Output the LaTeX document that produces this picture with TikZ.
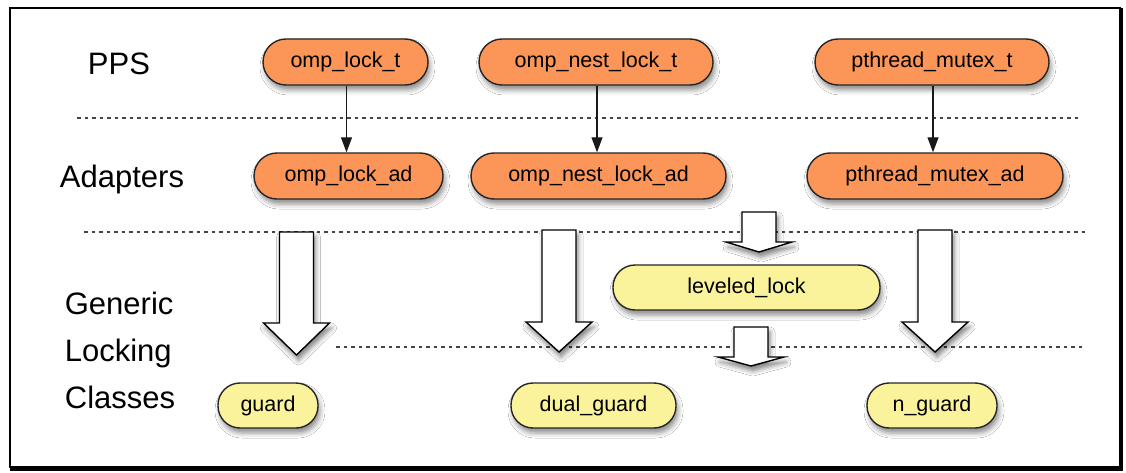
\documentclass[tikz,border=0pt]{standalone}
\usepackage{fontspec}
\setmainfont{Liberation Sans}
\usetikzlibrary{arrows.meta,shadows,shadows.blur}
\definecolor{orangefill}{HTML}{FB9658}
\definecolor{yellowfill}{HTML}{FAF39C}
\definecolor{dashgray}{HTML}{444444}
\tikzset{
  lbl/.style={font=\fontsize{31}{37}\selectfont, align=left, inner sep=0pt},
  ppsbox/.style={draw=black!85, line width=1.4pt, fill=orangefill, rounded corners=23pt,
    minimum height=46pt, inner sep=0pt, font=\fontsize{21.5}{26}\selectfont,
    blur shadow={shadow xshift=2pt, shadow yshift=-5pt, shadow blur radius=5pt, shadow opacity=45}},
  genbox/.style={draw=black!85, line width=1.4pt, fill=yellowfill, rounded corners=22pt,
    minimum height=45pt, inner sep=0pt, font=\fontsize{21.5}{26}\selectfont,
    blur shadow={shadow xshift=2pt, shadow yshift=-5pt, shadow blur radius=5pt, shadow opacity=45}},
  thinarrow/.style={-{Triangle[length=15pt,width=11pt]}, line width=1.2pt, black!90},
  layerline/.style={dashgray, line width=1.2pt, dash pattern=on 3.5pt off 4pt},
  blockarrow/.style={draw=black, line width=1.4pt, fill=white, line join=miter,
    blur shadow={shadow xshift=2pt, shadow yshift=-5pt, shadow blur radius=5pt, shadow opacity=50}},
}
% #1 centre x, #2 top y, #3 head base y, #4 tip y
\newcommand{\blkarr}[4]{%
  \path[blockarrow] (#1-17,#2) -- (#1+17,#2) -- (#1+17,#3) -- (#1+33,#3) -- (#1,#4)
    -- (#1-33,#3) -- (#1-17,#3) -- cycle;}
\begin{document}
\begin{tikzpicture}[x=1pt,y=-1pt]
\useasboundingbox (0,0) rectangle (1126,473);
\fill[white] (0,0) rectangle (1126,473);
% frame
\draw[black, line width=1.5pt] (10,8) rectangle (1120,467);
\draw[black, line width=3.5pt] (1121.5,8) -- (1121.5,469.5) -- (10,469.5);

% layer separators
\draw[layerline] (77,118) -- (1080,118);
\draw[layerline] (84,232) -- (1086,232);
\draw[layerline] (336,347) -- (1084,347);

% row labels
\node[lbl] (pps) at (119,64) {PPS};
\node[lbl] (adapters) at (122,179) {Adapters};
\node[lbl, align=left, font=\fontsize{31}{47}\selectfont] (generic) at (120,350) {Generic\\Locking\\Classes};

% PPS row
\node[ppsbox, minimum width=165pt] (omplockt) at (345.5,62) {omp\_lock\_t};
\node[ppsbox, minimum width=234pt] (ompnestt) at (596,62) {omp\_nest\_lock\_t};
\node[ppsbox, minimum width=234pt] (pthreadt) at (932,62) {pthread\_mutex\_t};

% Adapters row
\node[ppsbox, minimum width=189pt] (omplockad) at (348.5,176) {omp\_lock\_ad};
\node[ppsbox, minimum width=255pt] (ompnestad) at (598.5,176) {omp\_nest\_lock\_ad};
\node[ppsbox, minimum width=256pt] (pthreadad) at (935,176) {pthread\_mutex\_ad};

% thin arrows
\draw[thinarrow] (omplockt.south -| 346.5,0) -- (omplockad.north -| 346.5,0);
\draw[thinarrow] (ompnestt.south -| 597,0) -- (ompnestad.north -| 597,0);
\draw[thinarrow] (pthreadt.south -| 933,0) -- (pthreadad.north -| 933,0);

% block arrows
\blkarr{296.5}{232}{323}{355}
\blkarr{559}{230}{322}{352}
\blkarr{935}{230}{322}{352}
\blkarr{759}{212}{242}{252}
\blkarr{751}{327}{357}{366}

% generic locking classes
\node[genbox, minimum width=267pt] (leveled) at (746.5,287.5) {leveled\_lock};
\node[genbox, minimum width=100pt] (guard) at (268,405.5) {guard};
\node[genbox, minimum width=165pt] (dualguard) at (593.5,405.5) {dual\_guard};
\node[genbox, minimum width=130pt] (nguard) at (932,405.5) {n\_guard};
\end{tikzpicture}
\end{document}
